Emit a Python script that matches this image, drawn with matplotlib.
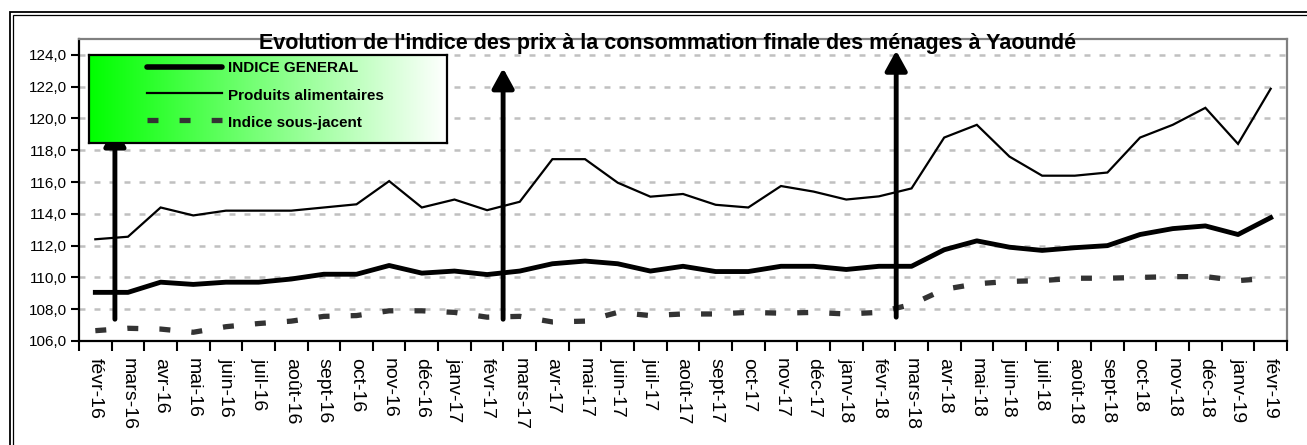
import numpy as np
import matplotlib
matplotlib.use("Agg")
import matplotlib.pyplot as plt
from matplotlib.patches import FancyArrowPatch, Rectangle
from matplotlib.lines import Line2D

plt.rcParams['font.family'] = ['Liberation Sans', 'DejaVu Sans']
plt.rcParams['lines.scale_dashes'] = False

categories = ['févr-16', 'mars-16', 'avr-16', 'mai-16', 'juin-16', 'juil-16', 'août-16',
              'sept-16', 'oct-16', 'nov-16', 'déc-16',
              'janv-17', 'févr-17', 'mars-17', 'avr-17', 'mai-17', 'juin-17', 'juil-17',
              'août-17', 'sept-17', 'oct-17', 'nov-17', 'déc-17',
              'janv-18', 'févr-18', 'mars-18', 'avr-18', 'mai-18', 'juin-18', 'juil-18',
              'août-18', 'sept-18', 'oct-18', 'nov-18', 'déc-18',
              'janv-19', 'févr-19']

indice_general = [109.06, 109.06, 109.7, 109.56, 109.7, 109.7, 109.9, 110.2, 110.2, 110.75, 110.27,
                  110.4, 110.18, 110.4, 110.86, 111.03, 110.86, 110.4, 110.7, 110.37, 110.37, 110.7, 110.7,
                  110.5, 110.7, 110.7, 111.74, 112.3, 111.9, 111.7, 111.87, 112.0, 112.7, 113.07, 113.24,
                  112.7, 113.76]

produits_alimentaires = [112.4, 112.56, 114.4, 113.9, 114.2, 114.2, 114.2, 114.4, 114.6, 116.06, 114.4,
                         114.9, 114.23, 114.76, 117.44, 117.44, 115.96, 115.08, 115.25, 114.57, 114.4, 115.75, 115.4,
                         114.9, 115.1, 115.6, 118.8, 119.6, 117.6, 116.4, 116.4, 116.6, 118.8, 119.6, 120.67,
                         118.4, 121.87]

indice_sous_jacent = [106.65, 106.8, 106.75, 106.55, 106.9, 107.1, 107.25, 107.55, 107.6, 107.9, 107.9,
                      107.8, 107.5, 107.55, 107.2, 107.25, 107.8, 107.6, 107.7, 107.7, 107.8, 107.75, 107.8,
                      107.7, 107.8, 108.3, 109.25, 109.6, 109.75, 109.8, 109.95, 109.95, 110.0, 110.05, 110.05,
                      109.8, 109.95]

series_names = ['INDICE GENERAL', 'Produits alimentaires', 'Indice sous-jacent']
title = "Evolution de l'indice des prix à la consommation finale des ménages à Yaoundé"

# vertical annotation arrows (category position, start value, end value)
arrow_x = [0.6, 12.49, 24.53]
arrow_y0 = [107.37, 107.37, 107.5]
arrow_y1 = [119.5, 123.16, 124.27]

yticks = [106, 108, 110, 112, 114, 116, 118, 120, 122, 124]

W, H = 1307, 445
fig = plt.figure(figsize=(W / 100, H / 100), dpi=100)
fig.patch.set_facecolor('white')

# outer double frame
fig.add_artist(Rectangle((9.5 / W, -0.1), 2, 1.1 - 12.5 / H, transform=fig.transFigure,
                         fill=False, edgecolor='black', lw=1.3))
fig.add_artist(Rectangle((13 / W, -0.1), 2, 1.1 - 15 / H, transform=fig.transFigure,
                         fill=False, edgecolor='black', lw=0.9))

left, right, top, bottom = 79, 1287, 39, 341
ax = fig.add_axes([left / W, (H - bottom) / H, (right - left) / W, (bottom - top) / H])
ax.set_xlim(-0.5, len(categories) - 0.5)
ax.set_ylim(106, 125)

x = np.arange(len(categories))

# grid
ax.set_yticks(yticks)
for yv in yticks[1:]:
    ax.axhline(yv, color='#c0c0c0', lw=1.8, linestyle=(0, (4.3, 6.5)), zorder=1)

ax.plot(x, produits_alimentaires, color='black', lw=1.6, zorder=3, solid_joinstyle='miter')
ax.plot(x, indice_general, color='black', lw=3.5, zorder=4, solid_joinstyle='round')
ax.plot(x, indice_sous_jacent, color='#333333', lw=3.8, linestyle=(0, (7.9, 15.2)),
        dash_capstyle='butt', zorder=4)

for xa, y0, y1 in zip(arrow_x, arrow_y0, arrow_y1):
    arr = FancyArrowPatch((xa, y0), (xa, y1), arrowstyle='-|>,head_length=0.6,head_width=0.33',
                          mutation_scale=20, lw=3.5, color='black', shrinkA=0, shrinkB=0,
                          zorder=6)
    ax.add_patch(arr)

# ticks
ax.set_yticklabels([f"{v:.1f}".replace('.', ',') for v in yticks])
ax.tick_params(axis='y', direction='out', length=6, width=1.5, labelsize=11, pad=3)
ax.set_xticks(x)
ax.set_xticklabels(categories, rotation=-90, fontsize=14)
ax.set_xticks(np.arange(-0.5, len(categories), 1.0), minor=True)
ax.tick_params(axis='x', which='major', length=0, pad=12)
ax.tick_params(axis='x', which='minor', direction='out', length=7, width=1.5)
for lab in ax.get_xticklabels():
    lab.set_va('top')
    lab.set_ha('center')

for s in ['left', 'bottom']:
    ax.spines[s].set_color('black')
    ax.spines[s].set_linewidth(1.6)
for s in ['top', 'right']:
    ax.spines[s].set_color('#808080')
    ax.spines[s].set_linewidth(1.6)

# title
fig.text(668 / W, 1 - 44 / H, title, ha='center', va='center', fontsize=15.5,
         fontweight='bold', zorder=10)

# legend box with green gradient
lx0, lx1, ly0, ly1 = 89, 447, 55, 143
lax = fig.add_axes([lx0 / W, (H - ly1) / H, (lx1 - lx0) / W, (ly1 - ly0) / H], zorder=5)
grad = np.linspace(0, 1, 256)
img = np.zeros((2, 256, 3))
img[..., 0] = grad
img[..., 1] = 1.0
img[..., 2] = grad
lax.imshow(img, extent=(0, 1, 0, 1), aspect='auto', interpolation='bilinear')
lax.set_xlim(0, 1)
lax.set_ylim(0, 1)
lax.set_xticks([])
lax.set_yticks([])
for s in lax.spines.values():
    s.set_color('black')
    s.set_linewidth(1.6)

def px2l(xp, yp):
    return (xp - lx0) / (lx1 - lx0), (ly1 - yp) / (ly1 - ly0)

styles = [dict(color='black', lw=4.0, solid_capstyle='round'),
          dict(color='black', lw=1.6),
          dict(color='#333333', lw=3.8, linestyle=(0, (7.9, 15.2)), dash_capstyle='butt')]
line_y = [67, 93, 119.5]
text_y = [68, 96, 123]
for name, st, yl, yt in zip(series_names, styles, line_y, text_y):
    a0 = px2l(147, yl)
    a1 = px2l(222, yl)
    lax.add_line(Line2D([a0[0], a1[0]], [a0[1], a1[1]], **st))
    tx, ty = px2l(228, yt)
    lax.text(tx, ty, name, fontsize=11, fontweight='bold', va='center', ha='left')

fig.savefig('out.png', dpi=100, facecolor='white')
